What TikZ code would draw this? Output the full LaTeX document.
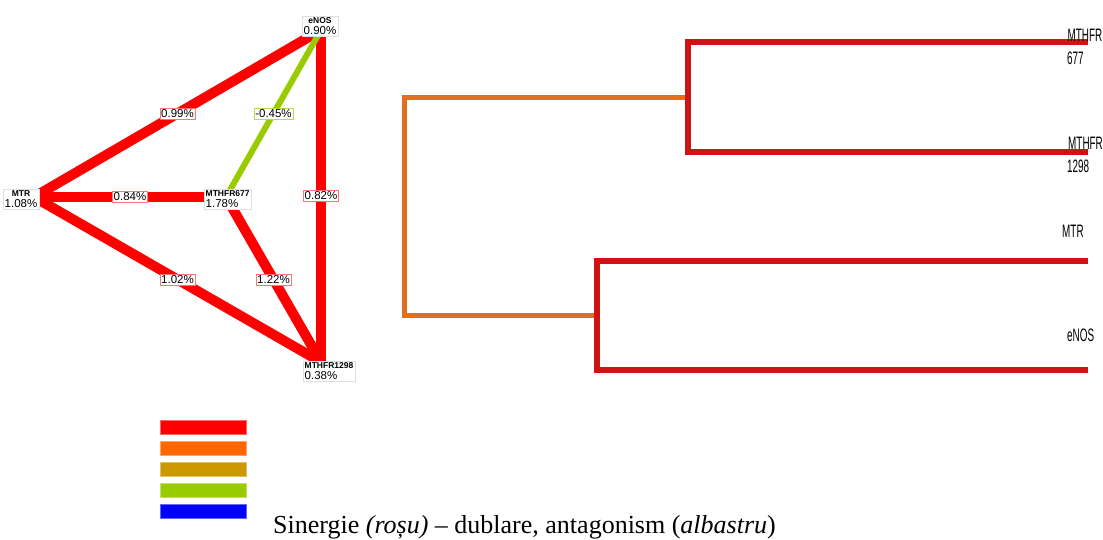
\documentclass[tikz,border=0pt]{standalone}
\usepackage{fontspec}
\setmainfont{Liberation Serif}
\setsansfont{Liberation Sans}
\definecolor{netred}{HTML}{FF0000}
\definecolor{netgreen}{HTML}{99CC00}
\definecolor{dred}{HTML}{CC1414}
\definecolor{dorange}{HTML}{E07020}
\definecolor{lgold}{HTML}{CC9900}
\definecolor{lorange}{HTML}{FF6600}
\definecolor{lblue}{HTML}{0000FF}
\tikzset{
  x=1pt,y=-1pt,
  rededge/.style={draw=netred,line width=10pt},
  greenedge/.style={draw=netgreen,line width=6pt},
  elabel/.style={fill=white,draw=#1,line width=0.5pt,inner sep=1.2pt,font=\sffamily\fontsize{11.5}{12}\selectfont},
  gene/.style={fill=white,draw=gray!25,line width=0.4pt,inner sep=1.5pt,font=\sffamily\fontsize{11.5}{10.5}\selectfont},
  dlineR/.style={draw=dred,line width=6.5pt},
  dlineO/.style={draw=dorange,line width=5pt},
  leaf/.style={font=\sffamily\fontsize{18}{18}\selectfont,inner sep=0pt},
  lbar/.style={fill=#1,draw=#1!60!white,line width=1pt},
}
\newcommand{\nm}[1]{{\fontsize{8.5}{9}\selectfont\bfseries #1}}
\newcommand{\cond}[1]{\scalebox{0.55}[1]{#1}}
\begin{document}
\begin{tikzpicture}
\useasboundingbox (0,0) rectangle (1103,539);
% network coordinates
\coordinate (en) at (321,30);
\coordinate (mtr) at (34,197);
\coordinate (m677) at (226,197);
\coordinate (m1298) at (321,362);
\draw[rededge] (en) -- node[elabel=netred!55]{0.99\%} (mtr);
\draw[rededge] (mtr) -- node[elabel=netred!55]{0.84\%} (m677);
\draw[rededge] (en) -- node[elabel=netred!55]{0.82\%} (m1298);
\draw[rededge] (mtr) -- node[elabel=netred!55]{1.02\%} (m1298);
\draw[rededge] (m677) -- node[elabel=netred!55]{1.22\%} (m1298);
\draw[greenedge] (en) -- node[elabel=netgreen!70]{-0.45\%} (m677);
% gene labels
\node[gene,align=center] (enL) at (320,26) {\nm{eNOS}\\0.90\%};
\node[gene,align=center] (mtrL) at (21,199) {\nm{MTR}\\1.08\%};
\node[gene,align=left,anchor=west] (m677L) at (204,199) {\nm{MTHFR677}\\1.78\%};
\node[gene,align=left,anchor=west] (m1298L) at (303,371) {\nm{MTHFR1298}\\0.38\%};
% dendrogram
\coordinate (r0) at (404,97);
\coordinate (r1) at (404,315);
\coordinate (a) at (688,97);
\coordinate (b) at (597,315);
\coordinate (a1) at (688,42);
\coordinate (a2) at (688,152);
\coordinate (b1) at (597,261);
\coordinate (b2) at (597,370);
\coordinate (la1) at (1088,42);
\coordinate (la2) at (1088,152);
\coordinate (lb1) at (1088,261);
\coordinate (lb2) at (1088,370);
\draw[dlineO,line cap=rect] (a) -- (r0) -- (r1) -- (b);
\draw[dlineR] (la1) -- (a1) -- (a2) -- (la2);
\draw[dlineR] (lb1) -- (b1) -- (b2) -- (lb2);
\node[leaf,anchor=east] (t1) at (1102.5,35) {\cond{MTHFR}};
\node[leaf,anchor=west] (t1b) at (1067,58) {\cond{677}};
\node[leaf,anchor=west] (t2) at (1068,143) {\cond{MTHFR}};
\node[leaf,anchor=west] (t2b) at (1067,166) {\cond{1298}};
\node[leaf,anchor=west] (t3) at (1062,231) {\cond{MTR}};
\node[leaf,anchor=west] (t4) at (1067,335) {\cond{eNOS}};
% legend
\draw[lbar=netred] (160,420) rectangle (246,434);
\draw[lbar=lorange] (160,441) rectangle (246,455);
\draw[lbar=lgold] (160,462) rectangle (246,476);
\draw[lbar=netgreen] (160,483) rectangle (246,497);
\draw[lbar=lblue] (160,504) rectangle (246,518);
\node[anchor=base west,inner sep=0pt,font=\fontsize{26}{28}\selectfont] (cap) at (273,533) {Sinergie \textit{(roșu)} – dublare, antagonism (\textit{albastru})};
\end{tikzpicture}
\end{document}
